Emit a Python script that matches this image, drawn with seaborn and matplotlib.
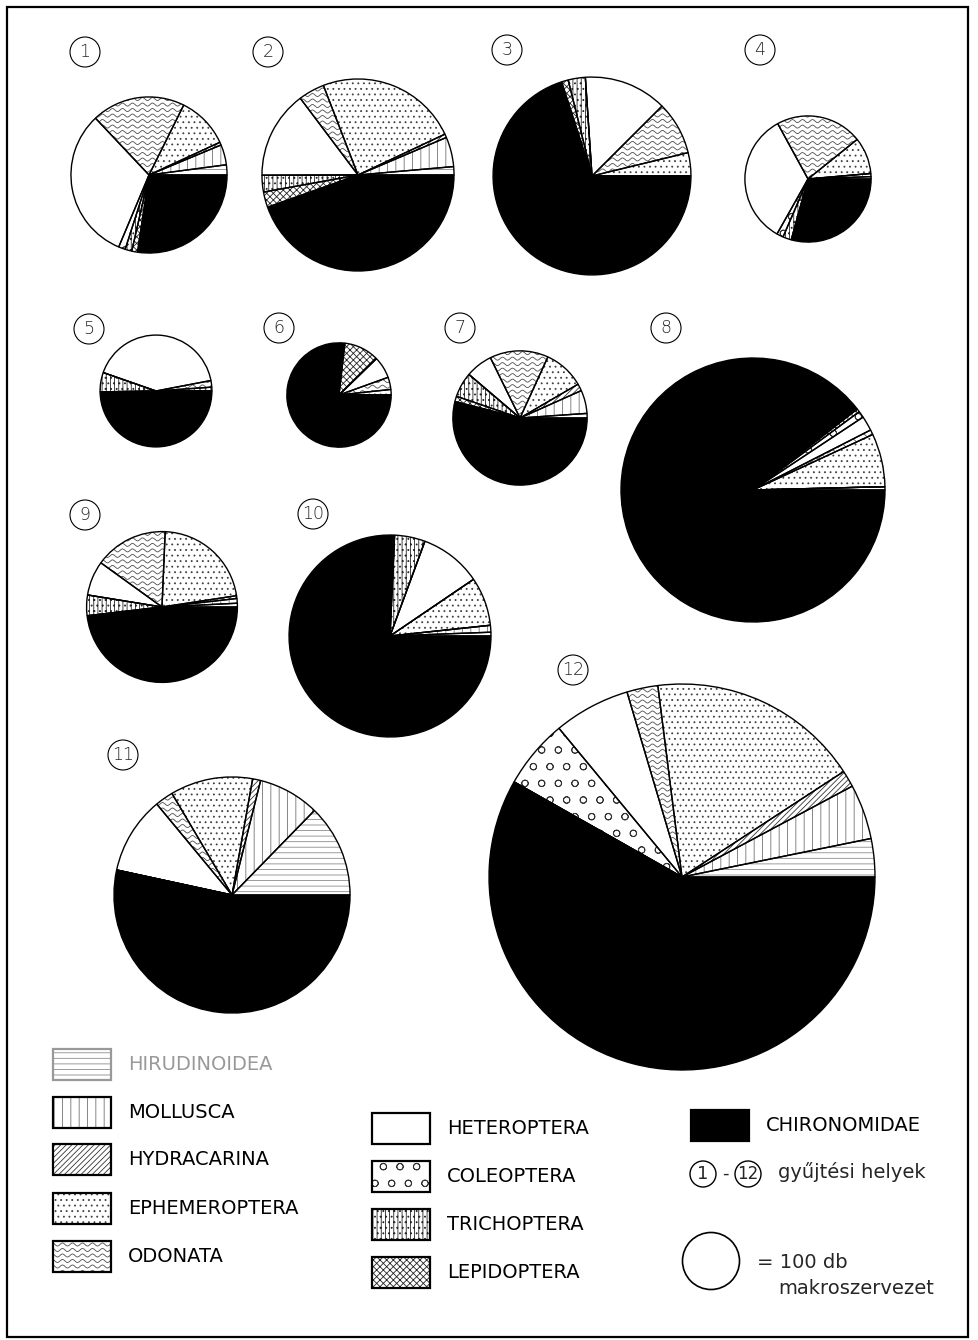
import numpy as np
import matplotlib
matplotlib.use("Agg")
import matplotlib.pyplot as plt
from matplotlib.patches import Circle, Rectangle
import seaborn as sns

sns.set_theme(style="white")
plt.rcParams["font.family"] = ["DejaVu Sans"]
plt.rcParams["hatch.linewidth"] = 0.6

W, H = 979, 1340

# ---- data -----------------------------------------------------------------
groups = ["HIRUDINOIDEA", "MOLLUSCA", "HYDRACARINA", "EPHEMEROPTERA", "ODONATA",
          "HETEROPTERA", "COLEOPTERA", "TRICHOPTERA", "LEPIDOPTERA", "CHIRONOMIDAE"]

site_labels = ["1", "2", "3", "4", "5", "6", "7", "8", "9", "10", "11", "12"]

# total number of animals collected at each site (pie area ~ total)
totals = [750, 1135, 1205, 490, 385, 335, 555, 2145, 700, 1255, 1715, 4585]

# composition (%) of each site, in the order of `groups`
site_1 = [2.1, 4.2, 0.6, 10.8, 19.4, 31.7, 1.4, 1.4, 1.2, 27.4]
site_2 = [1.4, 5.0, 0.6, 23.9, 4.4, 14.8, 0.0, 2.8, 2.6, 44.6]
site_3 = [0.0, 0.0, 0.0, 3.8, 8.7, 13.6, 0.0, 2.8, 1.1, 70.1]
site_4 = [0.6, 0.8, 0.0, 9.4, 22.2, 33.9, 1.7, 2.2, 0.0, 29.3]
site_5 = [0.0, 0.0, 0.0, 1.1, 1.9, 41.6, 0.0, 5.6, 0.0, 49.7]
site_6 = [0.0, 0.0, 0.0, 1.7, 3.8, 6.8, 0.0, 0.0, 10.9, 76.8]
site_7 = [1.1, 5.6, 1.7, 9.8, 14.1, 6.5, 0.0, 6.0, 1.3, 54.0]
site_8 = [0.4, 0.0, 0.0, 6.5, 0.6, 1.8, 0.8, 0.4, 0.0, 89.4]
site_9 = [0.8, 1.0, 0.6, 21.9, 15.7, 7.4, 0.0, 4.4, 0.0, 48.1]
site_10 = [0.6, 1.1, 0.0, 7.8, 0.0, 9.9, 0.0, 4.9, 0.0, 75.8]
site_11 = [12.7, 8.4, 1.1, 11.3, 2.5, 10.6, 0.0, 0.0, 0.0, 53.4]
site_12 = [3.2, 4.6, 1.4, 17.8, 2.6, 6.4, 5.8, 0.0, 0.0, 58.2]
shares = [site_1, site_2, site_3, site_4, site_5, site_6,
          site_7, site_8, site_9, site_10, site_11, site_12]

REF_COUNT = 100  # size of the reference circle in the key

# ---- layout (pixel positions, y measured from the top) ---------------------
R_REF = 28.5
pie_centres = [(149, 175), (358, 175), (592, 176), (808, 179),
               (156, 391), (339, 395), (520, 418), (753, 490),
               (162, 607), (390, 636), (232, 895), (682, 877)]
label_pos = [(85, 52), (268, 52), (507, 50), (760, 50),
             (89, 329), (279, 328), (460, 328), (666, 328),
             (85, 515), (313, 514), (123, 755), (573, 670)]

# fill style of each group: (facecolor, hatch, hatch colour, wavy)
styles = {
    "HIRUDINOIDEA": ("white", "---", "0.55", False),
    "MOLLUSCA": ("white", "||", "0.45", False),
    "HYDRACARINA": ("white", "//////", "0.2", False),
    "EPHEMEROPTERA": ("white", "...", "0.25", False),
    "ODONATA": ("white", None, "0.3", True),
    "HETEROPTERA": ("white", None, "black", False),
    "COLEOPTERA": ("white", "o", "0.2", False),
    "TRICHOPTERA": ("white", "||||...", "0.15", False),
    "LEPIDOPTERA": ("white", "xxxxx", "0.15", False),
    "CHIRONOMIDAE": ("black", None, "black", False),
}


def Y(y):
    return H - y


fig = plt.figure(figsize=(W / 100, H / 100), dpi=100)
ax = fig.add_axes([0, 0, 1, 1])


def add_waves(patch, x0, x1, y0, y1, color, step=5.5, wl=10.0, amp=1.5):
    xs = np.linspace(x0, x1, int((x1 - x0) * 2) + 2)
    for yb in np.arange(y0, y1 + step, step):
        ln, = ax.plot(xs, yb + amp * np.sin(2 * np.pi * xs / wl),
                      color=color, lw=0.6, zorder=patch.get_zorder() + 0.1)
        ln.set_clip_path(patch)


# ---- pies ------------------------------------------------------------------
for vals, total, (cx, cy) in zip(shares, totals, pie_centres):
    r = R_REF * np.sqrt(total / REF_COUNT)
    centre = (cx, Y(cy))
    # fills and hatching
    wedges, _ = ax.pie(vals, center=centre, radius=r, startangle=0,
                       counterclock=True, normalize=True, frame=True,
                       wedgeprops=dict(linewidth=0))
    for w, g in zip(wedges, groups):
        fc, hatch, hc, wavy = styles[g]
        w.set_facecolor(fc)
        w.set_edgecolor(hc)
        w.set_linewidth(0)
        if hatch:
            w.set_hatch(hatch)
        if wavy:
            add_waves(w, cx - r, cx + r, Y(cy) - r, Y(cy) + r, hc)
    # black outlines of the sectors
    ax.pie(vals, center=centre, radius=r, startangle=0, counterclock=True,
           normalize=True, frame=True,
           wedgeprops=dict(fill=False, edgecolor="black", linewidth=1.0,
                           zorder=3))

# site number labels
for txt, (lx, ly) in zip(site_labels, label_pos):
    ax.add_patch(Circle((lx, Y(ly)), 15, fill=False, edgecolor="black", lw=0.8))
    ax.text(lx, Y(ly), txt, ha="center", va="center", fontsize=12.5,
            color="0.15", fontweight="light")

# ---- key -------------------------------------------------------------------
key_left = [(53, 1049), (53, 1097), (53, 1144), (53, 1193), (53, 1241)]
key_mid = [(372, 1113), (372, 1161), (372, 1209), (372, 1257)]
key_right = [(691, 1110)]
box_w, box_h = 58, 31

for g, (bx, by) in zip(groups, key_left + key_mid + key_right):
    fc, hatch, hc, wavy = styles[g]
    faded = g == "HIRUDINOIDEA"
    rect = Rectangle((bx, Y(by + box_h)), box_w, box_h, facecolor=fc,
                     edgecolor=hc, lw=0, hatch=hatch)
    ax.add_patch(rect)
    if wavy:
        add_waves(rect, bx, bx + box_w, Y(by + box_h), Y(by), hc)
    ax.add_patch(Rectangle((bx, Y(by + box_h)), box_w, box_h, fill=False,
                           edgecolor="0.6" if faded else "black", lw=1.6,
                           zorder=3))
    ax.text(bx + box_w + 17, Y(by + box_h / 2), g, ha="left", va="center",
            fontsize=14, color="0.6" if faded else "black")

# site marker explanation
ax.add_patch(Circle((703, Y(1174)), 13, fill=False, edgecolor="black", lw=1.0))
ax.text(703, Y(1174), "1", ha="center", va="center", fontsize=13)
ax.text(725, Y(1174), "-", ha="center", va="center", fontsize=13)
ax.add_patch(Circle((748, Y(1174)), 13, fill=False, edgecolor="black", lw=1.0))
ax.text(748, Y(1174), "12", ha="center", va="center", fontsize=12)
ax.text(778, Y(1172), "gyűjtési helyek", ha="left", va="center", fontsize=14)

# reference circle
ax.add_patch(Circle((711, Y(1261)), R_REF * np.sqrt(REF_COUNT / 100),
                    fill=False, edgecolor="black", lw=1.2))
ax.text(757, Y(1262), f"= {REF_COUNT} db", ha="left", va="center", fontsize=14)
ax.text(778, Y(1289), "makroszervezet", ha="left", va="center", fontsize=14)

# outer frame
ax.add_patch(Rectangle((7, Y(1337)), 961, 1330, fill=False,
                       edgecolor="black", lw=1.6))

ax.set_xlim(0, W)
ax.set_ylim(0, H)
ax.set_aspect("auto")
ax.axis("off")
fig.savefig("out.png", dpi=100, facecolor="white")
